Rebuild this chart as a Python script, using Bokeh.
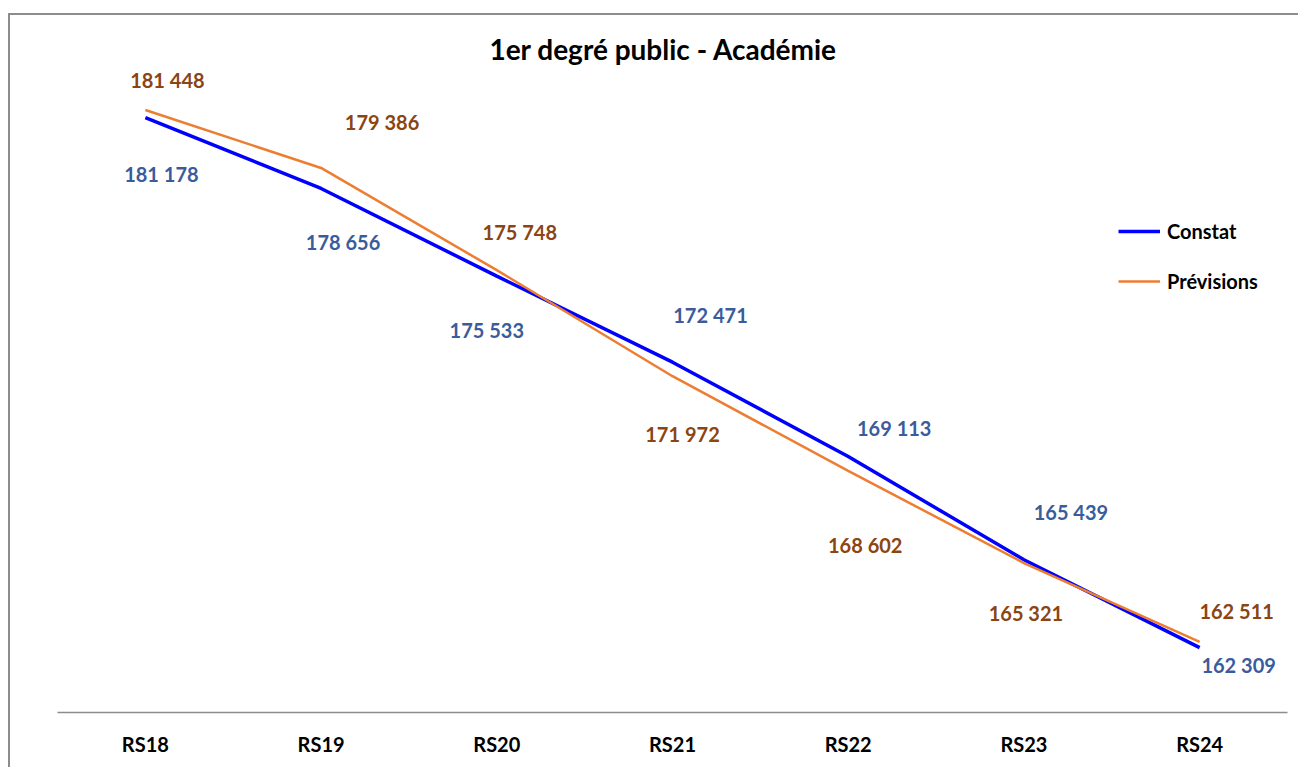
from bokeh.plotting import figure
from bokeh.models import ColumnDataSource, FactorRange, Range1d, Legend, LegendItem, Label
from bokeh.core.properties import value
from bokeh.embed import file_html
from bokeh.resources import INLINE

categories = ["RS18", "RS19", "RS20", "RS21", "RS22", "RS23", "RS24"]
constat = [181178, 178656, 175533, 172471, 169113, 165439, 162309]
previsions = [181448, 179386, 175748, 171972, 168602, 165321, 162511]

# label placement offsets in screen pixels (layout, not data)
constat_dx = [16, 22, -10, 38, 46, 47, 39]
constat_dy = [56, 54, 54, -47, -29, -48, 17]
prev_dx = [22, 61, 23, 10, 17, 2, 37]
prev_dy = [-30, -46, -38, 58, 74, 50, -31]

def fmt(v):
    return f"{v:,}".replace(",", " ")

FONT = "Lato"

p = figure(
    x_range=FactorRange(*categories, range_padding=0),
    y_range=Range1d(160000, 184813),
    width=1290, height=754,
    output_backend="svg", toolbar_location=None,
    y_axis_location=None,
    min_border_left=47, min_border_right=13,
    min_border_top=0, min_border_bottom=57,
)
p.styles = {"border-top": "2px solid #8c8c8c", "border-left": "2px solid #8c8c8c",
            "margin-left": "8px", "margin-top": "13px"}
p.outline_line_color = None
p.xgrid.grid_line_color = None
p.ygrid.grid_line_color = None
p.background_fill_color = "white"
p.border_fill_color = "white"

title = Label(x=606, y=664, x_units="screen", y_units="screen",
              text="1er degré public - Académie", text_font=FONT,
              text_font_size="28px", text_font_style="bold", text_color="#000000",
              text_align="center", text_baseline="middle")
p.add_layout(title)

ax = p.xaxis[0]
ax.axis_line_color = "#8c8c8c"
ax.axis_line_width = 1.5
ax.major_tick_line_color = None
ax.minor_tick_line_color = None
ax.major_label_text_font = FONT
ax.major_label_text_font_size = "20px"
ax.major_label_text_font_style = "bold"
ax.major_label_text_color = "#000000"
ax.major_label_standoff = 13

src = ColumnDataSource(dict(
    cat=categories, constat=constat, previsions=previsions,
    ctext=[fmt(v) for v in constat], ptext=[fmt(v) for v in previsions],
    cdx=constat_dx, cdy=constat_dy, pdx=prev_dx, pdy=prev_dy,
))

r_c = p.line("cat", "constat", source=src, line_color="#0000FF", line_width=3.5)
r_p = p.line("cat", "previsions", source=src, line_color="#ED7D31", line_width=2.5)

p.text("cat", "constat", text="ctext", x_offset="cdx", y_offset="cdy", source=src,
       text_font=value(FONT), text_font_size="20px", text_font_style="bold",
       text_color="#3A5C9C", text_align="center", text_baseline="middle")
p.text("cat", "previsions", text="ptext", x_offset="pdx", y_offset="pdy", source=src,
       text_font=value(FONT), text_font_size="20px", text_font_style="bold",
       text_color="#8B4513", text_align="center", text_baseline="middle")

legend = Legend(
    items=[LegendItem(label="Constat", renderers=[r_c]),
           LegendItem(label="Prévisions", renderers=[r_p])],
    location=(1061, 419),
    orientation="vertical",
    glyph_width=42, glyph_height=20, label_height=20,
    spacing=26, padding=0, margin=0, label_standoff=7,
    label_text_font=FONT, label_text_font_size="20px", label_text_font_style="bold",
    label_text_color="#000000",
    border_line_color=None, background_fill_alpha=0,
)
p.add_layout(legend)

open("out.html", "w").write(file_html(p, INLINE))
